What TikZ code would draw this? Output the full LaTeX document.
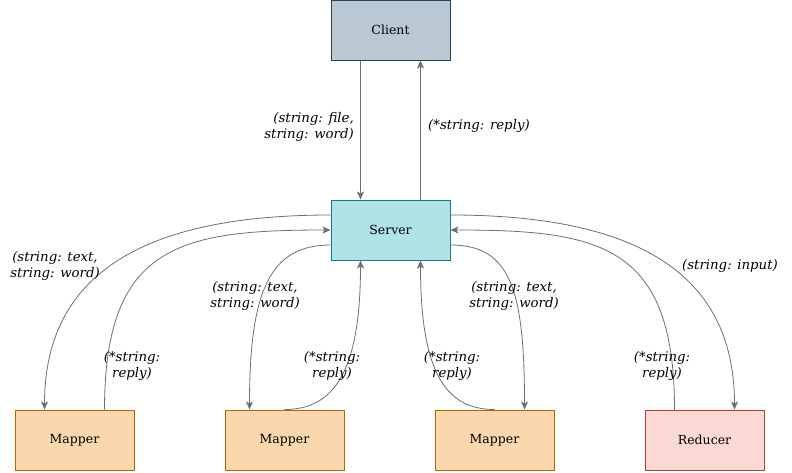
\documentclass[tikz,border=0pt]{standalone}
\usepackage{fontspec}
\setmainfont{DejaVu Serif}
\usetikzlibrary{arrows.meta}
\definecolor{clientfill}{HTML}{BAC8D3}
\definecolor{clientline}{HTML}{23445D}
\definecolor{serverfill}{HTML}{B0E3E6}
\definecolor{serverline}{HTML}{0E8088}
\definecolor{mapperfill}{HTML}{FAD7AC}
\definecolor{mapperline}{HTML}{B46504}
\definecolor{reducerfill}{HTML}{FAD9D5}
\definecolor{reducerline}{HTML}{AE4132}
\definecolor{edgegray}{HTML}{6E6E6E}

\begin{document}
\begin{tikzpicture}[x=1pt,y=1pt,
    box/.style={draw,line width=1pt,minimum width=119pt,minimum height=60pt,inner sep=0pt,font=\fontsize{12.5}{14}\selectfont},
    conn/.style={draw=edgegray,line width=0.8pt,-{Stealth[length=8pt,width=7pt,inset=2pt]}},
    lbl/.style={font=\fontsize{13.3}{15.5}\selectfont\itshape,align=center,inner sep=0pt}]
    \useasboundingbox (0,0) rectangle (792,-472);
    % Knoten
    \node[box,fill=clientfill,draw=clientline] (client) at (390.5,-30) {Client};
    \node[box,fill=serverfill,draw=serverline] (server) at (390.5,-230) {Server};
    \node[box,fill=mapperfill,draw=mapperline] (mapA) at (74.5,-440) {Mapper};
    \node[box,fill=mapperfill,draw=mapperline] (mapB) at (284.5,-440) {Mapper};
    \node[box,fill=mapperfill,draw=mapperline] (mapC) at (494.5,-440) {Mapper};
    \node[box,fill=reducerfill,draw=reducerline] (red) at (704.5,-440) {Reducer};
    % Client <-> Server
    \draw[conn] ([xshift=-30pt]client.south) -- ([xshift=-30pt]server.north);
    \draw[conn] ([xshift=30pt]server.north) -- ([xshift=30pt]client.south);
    % Server -> Worker
    \draw[conn] ([yshift=15pt]server.west) to[out=180,in=90,out distance=180pt,in distance=140pt] ([xshift=-30pt]mapA.north);
    \draw[conn] ([yshift=-15pt]server.west) to[out=180,in=90,out distance=60pt,in distance=120pt] ([xshift=-35pt]mapB.north);
    \draw[conn] ([yshift=-15pt]server.east) to[out=0,in=90,out distance=60pt,in distance=120pt] ([xshift=30pt]mapC.north);
    \draw[conn] ([yshift=15pt]server.east) to[out=0,in=90,out distance=180pt,in distance=140pt] ([xshift=30pt]red.north);
    % Worker -> Server
    \draw[conn] ([xshift=30pt]mapA.north) to[out=90,in=180,out distance=165pt,in distance=150pt] (server.west);
    \draw[conn] (mapB.north) to[out=0,in=-90,out distance=50pt,in distance=110pt] ([xshift=-30pt]server.south);
    \draw[conn] (mapC.north) to[out=180,in=-90,out distance=50pt,in distance=110pt] ([xshift=30pt]server.south);
    \draw[conn] ([xshift=-30pt]red.north) to[out=90,in=0,out distance=165pt,in distance=150pt] (server.east);
    % Beschriftungen
    \node[lbl,align=right,anchor=east] (lblCS) at (354,-127) {(string: file,\\string: word)};
    \node[lbl,anchor=west] (lblSC) at (428,-126) {(*string: reply)};
    \node[lbl] (lblA) at (55,-266) {(string: text,\\string: word)};
    \node[lbl] (lblAr) at (132,-366) {(*string:\\reply)};
    \node[lbl] (lblB) at (255,-296) {(string: text,\\string: word)};
    \node[lbl] (lblBr) at (332,-366) {(*string:\\reply)};
    \node[lbl] (lblC) at (514,-296) {(string: text,\\string: word)};
    \node[lbl] (lblCr) at (452,-366) {(*string:\\reply)};
    \node[lbl] (lblRr) at (662,-366) {(*string:\\reply)};
    \node[lbl] (lblR) at (730,-266) {(string: input)};
\end{tikzpicture}
\end{document}
